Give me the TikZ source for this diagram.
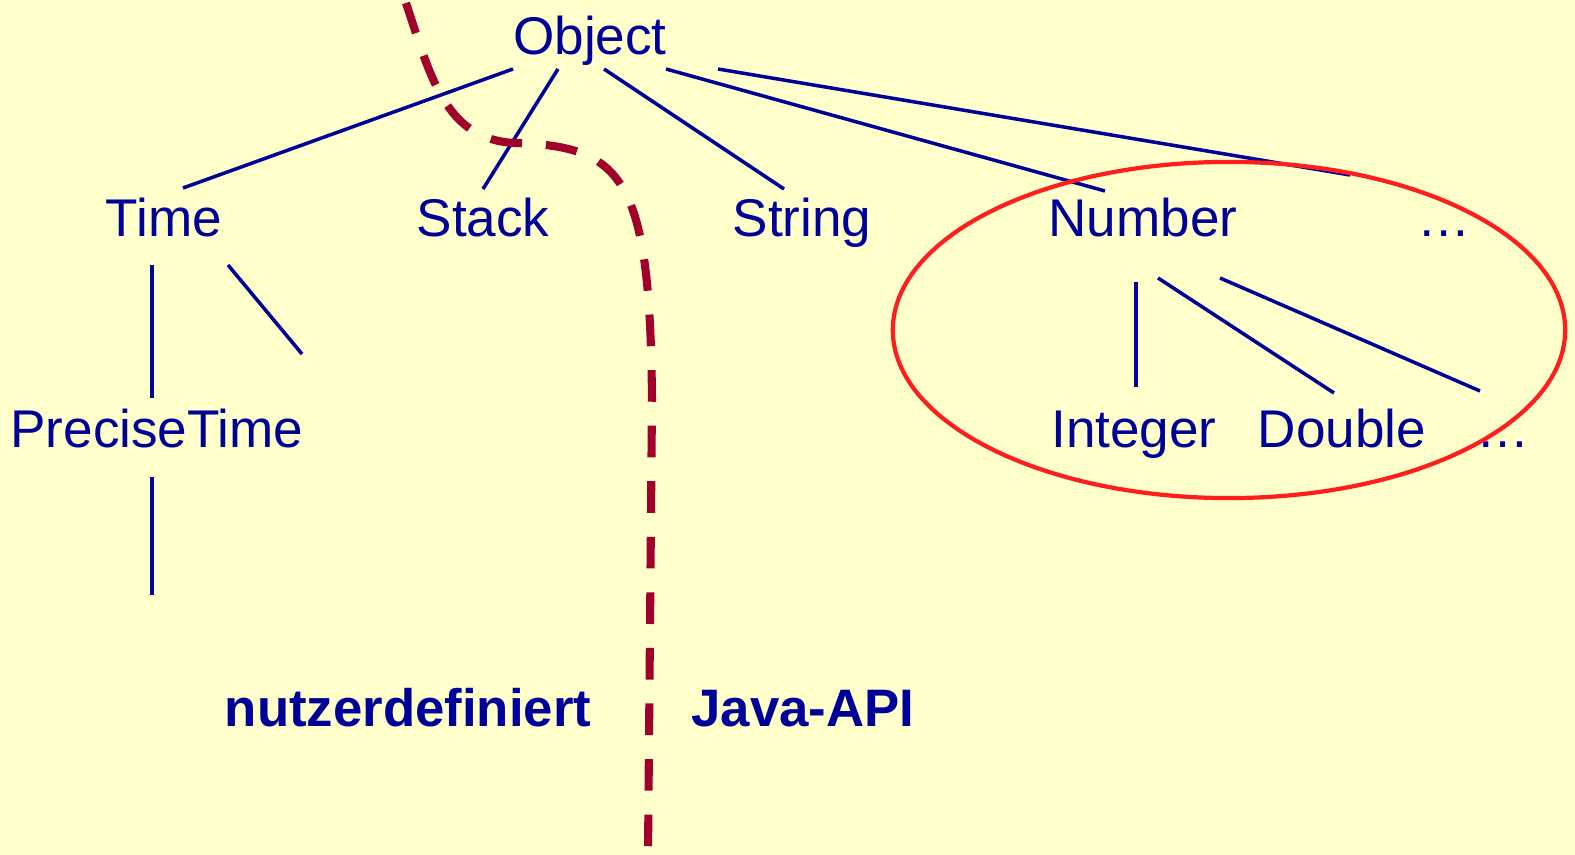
\documentclass[tikz,border=0pt]{standalone}
\usepackage{fontspec}
\setmainfont{Liberation Sans}
\usepackage{xcolor}
\usepackage{tikz}

\definecolor{paper}{HTML}{FFFFCC}
\definecolor{navy}{HTML}{000099}
\definecolor{apired}{HTML}{A0002A}
\definecolor{ringred}{HTML}{FF1E1E}

\tikzset{
  cls/.style={text=navy, font=\fontsize{15.1}{18}\selectfont, inner sep=0pt, anchor=base},
  side/.style={cls, font=\fontsize{15}{18}\selectfont\bfseries},
  edge/.style={navy, line width=1pt},
  apiline/.style={apired, line width=2.3pt, dash pattern=on 9pt off 6.8pt},
  ring/.style={ringred, line width=1.2pt},
}

\begin{document}
\begin{tikzpicture}[x=0.01cm, y=-0.01cm]
\useasboundingbox (0,0) rectangle (1575,855);
\fill[paper] (0,0) rectangle (1575,855);

% class names
\node[cls] (obj) at (590,55) {Object};
\node[cls] (time) at (164,237) {Time};
\node[cls] (stack) at (483,237) {Stack};
\node[cls] (string) at (802,237) {String};
\node[cls] (number) at (1143,237) {Number};
\node[cls] (more) at (1444,237) {…};
\node[cls] (ptime) at (157,448) {PreciseTime};
\node[cls] (integer) at (1134,448) {Integer};
\node[cls] (double) at (1342,448) {Double};
\node[cls] (more2) at (1503,448) {…};
\node[side] (user) at (408,726) {nutzerdefiniert};
\node[side] (api) at (803,726) {Java-API};

\coordinate (timeleaf) at (302,354);
\coordinate (ptimeleaf) at (152,595);

% subclasses of Object
\foreach \dx/\child/\ex/\ey in {-77/time/19/-49, -32/stack/0/-48, 14/string/-18/-48, 76/number/-38/-46, 128/more/-94/-62}
  \draw[edge] ([shift={(\dx,14)}]obj.base) -- ([shift={(\ex,\ey)}]\child.base);

\draw[edge] ([shift={(-12,28)}]time.base) -- ([shift={(-5,-50)}]ptime.base);
\draw[edge] ([shift={(64,28)}]time.base) -- (timeleaf);
\draw[edge] ([shift={(-5,29)}]ptime.base) -- (ptimeleaf);

% subclasses of Number
\draw[edge] ([shift={(-7,45)}]number.base) -- ([shift={(2,-61)}]integer.base);
\draw[edge] ([shift={(15,41)}]number.base) -- ([shift={(-8,-55)}]double.base);
\draw[edge] ([shift={(77,41)}]number.base) -- ([shift={(-23,-57)}]more2.base);

\draw[ring] (1229,330) ellipse [x radius=3.36cm, y radius=1.68cm];

% border between own classes and the API
\draw[apiline] (406,3) .. controls (430,75) and (445,140) .. (515,143)
  .. controls (625,146) and (650,180) .. (652,400) -- (648,855);
\end{tikzpicture}
\end{document}
